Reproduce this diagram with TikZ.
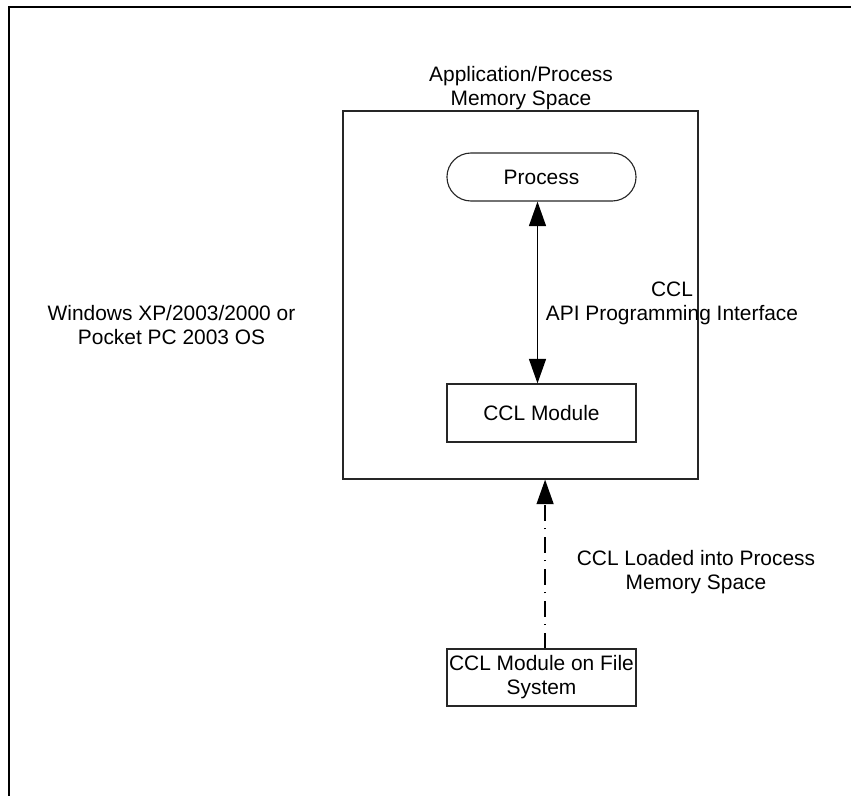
\documentclass[tikz,border=0pt]{standalone}
\usepackage{fontspec}
\setmainfont{Liberation Sans}
\usetikzlibrary{arrows.meta}

\begin{document}
\begin{tikzpicture}[x=0.025cm, y=-0.025cm,
  every node/.style={font=\fontsize{14.87pt}{17.1pt}\selectfont, align=center},
  box/.style={draw=black!85, line width=0.8pt, inner sep=0pt, minimum width=4.725cm},
  conn/.style={line width=1.4pt, -{Triangle[length=17.5pt, width=12pt]}}]
\useasboundingbox (0,0) rectangle (851,796);
\draw[line width=1.4pt] (9,796) -- (9,7) -- (851,7);
\node[box, minimum width=8.875cm, minimum height=9.2cm] (mem) at (520.5,295) {};
\node[box, minimum height=1.2cm, rounded corners=0.6cm] (proc) at (541.5,177) {Process};
\node[box, minimum height=1.45cm] (mod) at (541.5,413) {CCL Module};
\node[box, minimum height=1.425cm] (file) at (541.5,677.5) {CCL Module on File\\System};
\node (os) at (171.5,325) {Windows XP/2003/2000 or\\Pocket PC 2003 OS};
\node (title) at (521,88) {Application/Process\\Memory Space};
\node (api) at (672,303) {CCL\\API Programming Interface};
\node (load) at (696,572) {CCL Loaded into Process\\Memory Space};
\draw[conn, {Triangle[length=17.5pt, width=12pt]}-{Triangle[length=17.5pt, width=12pt]}]
  ([xshift=-0.1cm]mod.north) -- ([xshift=-0.1cm]proc.south);
\draw[conn, dash pattern=on 11pt off 5.5pt on 0.7pt off 5.5pt]
  ([xshift=0.09cm]file.north) -- ([xshift=0.09cm]file.north |- mem.south);
\end{tikzpicture}
\end{document}
